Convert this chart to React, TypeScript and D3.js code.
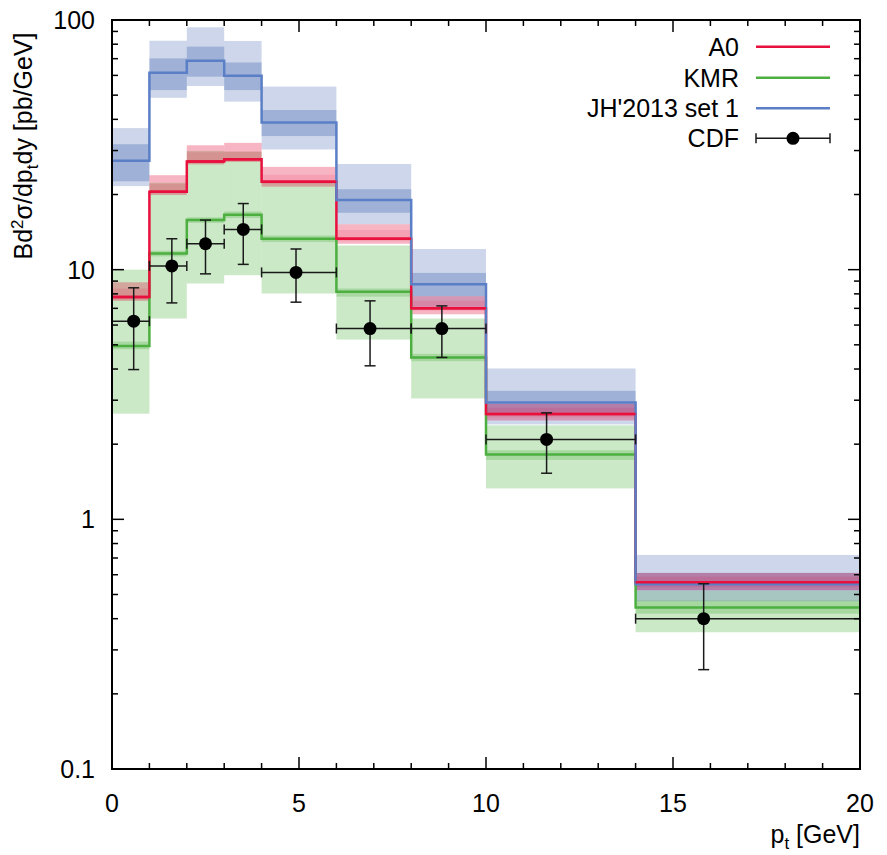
import React from 'react';
import * as d3 from 'd3';

// ---- data ----
const binEdges = [0, 1, 2, 3, 4, 6, 8, 10, 14, 20];

const jhCentral = [27.3, 61.5, 68.7, 59.8, 38.9, 19.0, 8.75, 2.94, 0.55];
const jhInnerLo = [22.6, 52.4, 59.3, 52.4, 34.3, 16.9, 7.83, 2.68, 0.52];
const jhInnerHi = [31.8, 70.2, 78.2, 67.6, 43.6, 21.0, 9.7, 3.27, 0.61];
const jhOuterLo = [21.6, 48.8, 54.4, 47.1, 30.3, 15.2, 7.1, 2.4, 0.47];
const jhOuterHi = [36.9, 82.6, 93.5, 82.4, 54.1, 26.5, 12.1, 4.02, 0.72];

const a0Central = [7.78, 20.5, 27.1, 27.7, 22.5, 13.3, 7.0, 2.64, 0.56];
const a0InnerLo = [7.6, 20.2, 26.7, 27.3, 22.0, 13.0, 6.85, 2.56, 0.535];
const a0InnerHi = [8.4, 22.0, 29.5, 29.7, 24.0, 14.4, 7.5, 2.8, 0.59];
const a0OuterLo = [7.5, 19.9, 26.4, 27.0, 21.5, 12.7, 6.63, 2.49, 0.52];
const a0OuterHi = [8.9, 23.9, 31.5, 32.2, 25.8, 15.2, 7.83, 2.9, 0.61];

const kmrCentral = [4.95, 11.6, 15.8, 16.6, 13.3, 8.15, 4.45, 1.82, 0.443];
const kmrInnerLo = [4.8, 11.3, 15.4, 16.1, 12.9, 7.8, 4.3, 1.73, 0.419];
const kmrInnerHi = [5.15, 11.9, 16.2, 17.1, 13.7, 8.4, 4.6, 1.89, 0.473];
const kmrOuterLo = [2.65, 6.37, 8.8, 9.5, 8.03, 5.25, 3.05, 1.33, 0.353];
const kmrOuterHi = [10.0, 22.3, 29.9, 29.7, 22.3, 12.5, 6.37, 2.38, 0.519];

const cdfX = [0.58, 1.6, 2.5, 3.51, 4.92, 6.9, 8.82, 11.62, 15.82];
const cdfY = [6.22, 10.35, 12.7, 14.5, 9.75, 5.81, 5.81, 2.09, 0.4];
const cdfYHi = [8.46, 13.3, 15.8, 18.4, 12.1, 7.5, 7.16, 2.67, 0.552];
const cdfYLo = [3.98, 7.36, 9.62, 10.5, 7.41, 4.12, 4.45, 1.53, 0.25];

const xTickLabels = [0, 5, 10, 15, 20];
const yTickLabels = [100, 10, 1, 0.1];
const legendLabels = ['A0', 'KMR', "JH'2013 set 1", 'CDF'];

const FONT = "'Liberation Sans', Arial, Helvetica, sans-serif";

export default function App() {
  const W = 887, H = 855;
  const x = d3.scaleLinear().domain([0, 20]).range([112, 860]);
  const y = d3.scaleLog().domain([0.1, 100]).range([769, 20]);
  const [x0, x1] = x.range();
  const [yb, yt] = y.range();

  const stepPath = (vals: number[]) => {
    const pts: [number, number][] = vals.map((v, i) => [binEdges[i], v]);
    pts.push([binEdges[binEdges.length - 1], vals[vals.length - 1]]);
    return d3.line<[number, number]>().x(d => x(d[0])).y(d => y(d[1])).curve(d3.curveStepAfter)(pts) || '';
  };

  const bands = (lo: number[], hi: number[], color: string, op: number, key: string) =>
    lo.map((l, i) => (
      <rect key={key + i} x={x(binEdges[i])} width={x(binEdges[i + 1]) - x(binEdges[i])}
        y={y(hi[i])} height={y(l) - y(hi[i])} fill={color} fillOpacity={op} />
    ));

  const blueBase = '#4a6cb4', redBase = '#e60a3c', greenBase = '#54b246';
  const blueLine = '#5b7fc6', redLine = '#e8103c', greenLine = '#4caf40';

  // ticks
  const xMinor = d3.range(0, 21, 1);
  const yMinor: number[] = [];
  [0.1, 1, 10].forEach(d => { for (let k = 1; k <= 9; k++) yMinor.push(d * k); });
  yMinor.push(100);
  const isMajorY = (v: number) => yTickLabels.some(t => Math.abs(t - v) < 1e-9);

  const legendY = [46.7, 77.7, 108.3, 138.3];
  const legendColors = [redLine, greenLine, blueLine];

  const ebStroke = '#1a1a1a';

  return (
    <svg width={W} height={H} style={{ position: 'absolute', left: 0, top: 0, background: '#fff' }}
      fontFamily={FONT}>
      <rect x={0} y={0} width={W} height={H} fill="#fff" />
      <defs>
        <clipPath id="plotclip">
          <rect x={x0} y={yt} width={x1 - x0} height={yb - yt} />
        </clipPath>
      </defs>
      <g clipPath="url(#plotclip)">
        {bands(kmrOuterLo, kmrOuterHi, greenBase, 0.3, 'ko')}
        {bands(kmrInnerLo, kmrInnerHi, greenBase, 0.3, 'ki')}
        {bands(jhOuterLo, jhOuterHi, blueBase, 0.28, 'jo')}
        {bands(jhInnerLo, jhInnerHi, blueBase, 0.35, 'ji')}
        {bands(a0OuterLo, a0OuterHi, redBase, 0.3, 'ao')}
        {bands(a0InnerLo, a0InnerHi, redBase, 0.12, 'ai')}
        <path d={stepPath(kmrCentral)} fill="none" stroke={greenLine} strokeWidth={2.5} />
        <path d={stepPath(a0Central)} fill="none" stroke={redLine} strokeWidth={2.5} />
        <path d={stepPath(jhCentral)} fill="none" stroke={blueLine} strokeWidth={2.5} />
        {a0Central.map((v, i) => (
          <line key={'ah' + i} x1={x(binEdges[i])} x2={x(binEdges[i + 1])} y1={y(v)} y2={y(v)}
            stroke={redLine} strokeWidth={2.5} />
        ))}
        {cdfX.map((cx, i) => {
          const px = x(cx), py = y(cdfY[i]);
          const xl = x(binEdges[i]), xr = x(binEdges[i + 1]);
          const yh = y(cdfYHi[i]), yl = y(cdfYLo[i]);
          return (
            <g key={'cdf' + i} stroke={ebStroke} strokeWidth={1.5}>
              <line x1={xl} x2={xr} y1={py} y2={py} />
              <line x1={xl} x2={xl} y1={py - 5} y2={py + 5} />
              <line x1={xr} x2={xr} y1={py - 5} y2={py + 5} />
              <line x1={px} x2={px} y1={yh} y2={yl} />
              <line x1={px - 5.5} x2={px + 5.5} y1={yh} y2={yh} />
              <line x1={px - 5.5} x2={px + 5.5} y1={yl} y2={yl} />
              <circle cx={px} cy={py} r={6.5} fill="#000" stroke="none" />
            </g>
          );
        })}
      </g>

      {/* ticks */}
      <g stroke="#000" strokeWidth={1.5}>
        {xMinor.map(v => {
          const len = v % 5 === 0 ? 12 : 6;
          return (
            <g key={'xt' + v}>
              <line x1={x(v)} x2={x(v)} y1={yb} y2={yb - len} />
              <line x1={x(v)} x2={x(v)} y1={yt} y2={yt + len} />
            </g>
          );
        })}
        {yMinor.map(v => {
          const len = isMajorY(v) ? 12 : 6;
          return (
            <g key={'yt' + v}>
              <line x1={x0} x2={x0 + len} y1={y(v)} y2={y(v)} />
              <line x1={x1} x2={x1 - len} y1={y(v)} y2={y(v)} />
            </g>
          );
        })}
      </g>
      <rect x={x0} y={yt} width={x1 - x0} height={yb - yt} fill="none" stroke="#000" strokeWidth={2} />

      {/* tick labels */}
      <g fontSize={25} fill="#000">
        {xTickLabels.map(v => (
          <text key={'xl' + v} x={x(v)} y={812} textAnchor="middle">{v}</text>
        ))}
        {yTickLabels.map(v => (
          <text key={'yl' + v} x={95} y={y(v) + 9} textAnchor="end">{String(v)}</text>
        ))}
      </g>

      {/* axis titles */}
      <text x={860} y={843} textAnchor="end" fontSize={25} fill="#000">
        p<tspan dy={6} fontSize={17}>t</tspan><tspan dy={-6}> [GeV]</tspan>
      </text>
      <text transform="translate(32,146) rotate(-90)" textAnchor="middle" fontSize={25} fill="#000">
        Bd<tspan dy={-9} fontSize={17}>2</tspan><tspan dy={9}>σ/dp</tspan><tspan dy={6} fontSize={17}>t</tspan><tspan dy={-6}>dy [pb/GeV]</tspan>
      </text>

      {/* legend */}
      <g fontSize={25} fill="#000">
        {legendLabels.map((lab, i) => (
          <text key={'lg' + i} x={739} y={legendY[i] + 9} textAnchor="end">{lab}</text>
        ))}
      </g>
      {legendColors.map((c, i) => (
        <line key={'ll' + i} x1={756} x2={830} y1={legendY[i]} y2={legendY[i]} stroke={c} strokeWidth={2.5} />
      ))}
      <g stroke={ebStroke} strokeWidth={1.5}>
        <line x1={756} x2={830} y1={legendY[3]} y2={legendY[3]} />
        <line x1={756} x2={756} y1={legendY[3] - 5} y2={legendY[3] + 5} />
        <line x1={830} x2={830} y1={legendY[3] - 5} y2={legendY[3] + 5} />
        <circle cx={793} cy={legendY[3]} r={6.5} fill="#000" stroke="none" />
      </g>
    </svg>
  );
}
